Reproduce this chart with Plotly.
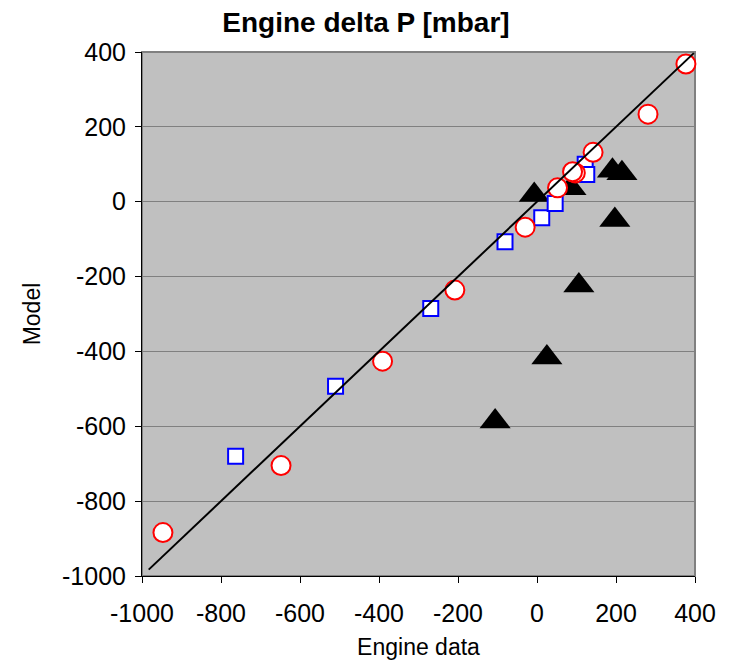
import plotly.graph_objects as go

# Data
circle_x = [377, 281, 142, 97, 90, 52, -30, -208, -391, -648, -947]
circle_y = [368, 234, 132, 77, 80, 37, -68, -236, -426, -705, -884]

square_x = [-763, -510, -269, -81, 12, 46, 122, 126]
square_y = [-680, -493, -285, -107, -43, -5, 100, 73]

triangle_x = [191, 215, -7, 86, 197, 106, 25, -106]
triangle_y = [83, 76, 18, 36, -49, -224, -416, -587]

line_x = [-983, 397]
line_y = [-983, 397]

x_ticks = [-1000, -800, -600, -400, -200, 0, 200, 400]
y_ticks = [-1000, -800, -600, -400, -200, 0, 200, 400]

FONT = "Liberation Sans, Arial, sans-serif"

fig = go.Figure()

fig.add_trace(go.Scatter(
    x=triangle_x, y=triangle_y, mode="markers", cliponaxis=False,
    marker=dict(symbol="triangle-up", size=27, color="black",
                line=dict(color="black", width=0)),
    showlegend=False))

fig.add_trace(go.Scatter(
    x=square_x, y=square_y, mode="markers", cliponaxis=False,
    marker=dict(symbol="square", size=15, color="white",
                line=dict(color="#0000FF", width=2)),
    showlegend=False))

fig.add_trace(go.Scatter(
    x=circle_x, y=circle_y, mode="markers", cliponaxis=False,
    marker=dict(symbol="circle", size=19, color="white",
                line=dict(color="#FF0000", width=2)),
    showlegend=False))

fig.add_trace(go.Scatter(
    x=line_x, y=line_y, mode="lines", cliponaxis=False,
    line=dict(color="black", width=2),
    showlegend=False))

fig.add_shape(type="rect", xref="paper", yref="paper", x0=0, x1=1, y0=0, y1=1,
              line=dict(color="#808080", width=2), layer="below")

fig.update_layout(
    width=732, height=667,
    margin=dict(l=142, r=37, t=52, b=91),
    paper_bgcolor="white",
    plot_bgcolor="#C0C0C0",
    font=dict(family=FONT, color="black"),
    title=dict(text="<b>Engine delta P [mbar]</b>", x=0.5, xref="container",
               xanchor="center", y=0.967, yanchor="middle",
               font=dict(size=28, family=FONT, color="black")),
)

fig.update_xaxes(
    range=[-1000, 400], tickvals=x_ticks, ticktext=[str(v) for v in x_ticks],
    showgrid=False, zeroline=False,
    showline=True, linecolor="black", linewidth=1,
    ticks="outside", ticklen=6, tickcolor="black",
    ticklabelstandoff=9,
    tickfont=dict(size=25, family=FONT),
    title=dict(text="Engine data", font=dict(size=23, family=FONT), standoff=12),
)
fig.update_yaxes(
    range=[-1000, 400], tickvals=y_ticks, ticktext=[str(v) for v in y_ticks],
    showgrid=True, gridcolor="#808080", gridwidth=1, zeroline=False,
    showline=True, linecolor="black", linewidth=1,
    ticks="outside", ticklen=6, tickcolor="black",
    ticklabelstandoff=4,
    tickfont=dict(size=25, family=FONT),
    title=dict(text="Model", font=dict(size=23, family=FONT), standoff=14),
)

fig.write_html("out.html")
